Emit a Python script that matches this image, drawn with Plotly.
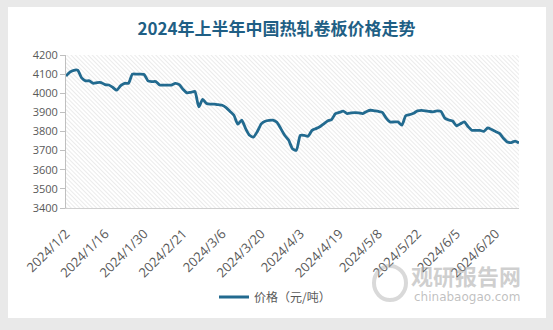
import base64
import plotly.graph_objects as go

# ---- data (trading days, H1 2024) ----
jan = ["1/2", "1/3", "1/4", "1/5", "1/8", "1/9", "1/10", "1/11", "1/12", "1/15", "1/16",
       "1/17", "1/18", "1/19", "1/22", "1/23", "1/24", "1/25", "1/26", "1/29", "1/30", "1/31"]
feb = ["2/1", "2/2", "2/5", "2/6", "2/7", "2/8", "2/19", "2/20", "2/21", "2/22", "2/23",
       "2/26", "2/27", "2/28", "2/29"]
mar = ["3/1", "3/4", "3/5", "3/6", "3/7", "3/8", "3/11", "3/12", "3/13", "3/14", "3/15",
       "3/18", "3/19", "3/20", "3/21", "3/22", "3/25", "3/26", "3/27", "3/28", "3/29"]
apr = ["4/1", "4/2", "4/3", "4/8", "4/9", "4/10", "4/11", "4/12", "4/15", "4/16", "4/17",
       "4/18", "4/19", "4/22", "4/23", "4/24", "4/25", "4/26", "4/29", "4/30"]
may = ["5/6", "5/7", "5/8", "5/9", "5/10", "5/13", "5/14", "5/15", "5/16", "5/17", "5/20",
       "5/21", "5/22", "5/23", "5/24", "5/27", "5/28", "5/29", "5/30", "5/31"]
jun = ["6/3", "6/4", "6/5", "6/6", "6/7", "6/11", "6/12", "6/13", "6/14", "6/17", "6/18",
       "6/19", "6/20", "6/21", "6/24", "6/25", "6/26", "6/27", "6/28"]
dates = ["2024/" + d for d in jan + feb + mar + apr + may + jun]

prices = [
    4090, 4110, 4120, 4120, 4080, 4065, 4065, 4052, 4056, 4056,
    4045, 4043, 4030, 4016, 4040, 4052, 4052, 4100, 4100, 4100,
    4098, 4065, 4061, 4061, 4043, 4043, 4043, 4043, 4052, 4045,
    4020, 4002, 4005, 4009, 3929, 3968, 3946, 3943, 3943, 3940,
    3937, 3925, 3905, 3885, 3838, 3859, 3815, 3780, 3771, 3800,
    3840, 3854, 3858, 3859, 3848, 3815, 3780, 3755, 3710, 3702,
    3780, 3780, 3775, 3806, 3815, 3825, 3840, 3855, 3862, 3893,
    3900, 3906, 3894, 3897, 3899, 3897, 3894, 3905, 3911, 3908,
    3905, 3900, 3870, 3850, 3850, 3850, 3833, 3882, 3888, 3895,
    3908, 3910, 3908, 3905, 3903, 3908, 3905, 3870, 3860, 3855,
    3830, 3840, 3850, 3825, 3806, 3806, 3806, 3801, 3819, 3810,
    3800, 3790, 3765, 3745, 3742, 3750, 3740,
]
tick_dates = dates[::10]
series_name = "价格（元/吨）"
title_text = "2024年上半年中国热轧卷板价格走势"

# ---- geometry ----
W, H = 553, 330
L, R, T, B = 66, 34, 55, 122
PW, PH = W - L - R, H - T - B


def fx(x):
    return (x - L) / PW


def fy(y):
    return (H - B - y) / PH


LINE = "#226a8f"
TXT = "#595959"

hatch_svg = (
    f"<svg xmlns='http://www.w3.org/2000/svg' width='{PW}' height='{PH}'>"
    "<defs><pattern id='p' width='3' height='3' patternUnits='userSpaceOnUse' "
    "patternTransform='rotate(-45)'>"
    "<line x1='0' y1='0' x2='0' y2='3' stroke='#d2d2d2' stroke-width='0.9'/>"
    "</pattern></defs><rect width='100%' height='100%' fill='url(#p)'/></svg>"
)
hatch_uri = "data:image/svg+xml;base64," + base64.b64encode(hatch_svg.encode()).decode()

fig = go.Figure()
fig.add_trace(go.Scatter(
    x=dates, y=prices, mode="lines", name=series_name,
    line=dict(color=LINE, width=2.8, shape="spline", smoothing=0.6),
))

shapes = []
# grey frame around white card (shadow)
GREY = "#e9e9e9"
for (x0, y0, x1, y1) in [(0, 0, W, 7), (0, 318, W, H), (0, 0, 8, H), (546, 0, W, H)]:
    shapes.append(dict(type="rect", xref="paper", yref="paper",
                       x0=fx(x0), x1=fx(x1), y0=fy(y1), y1=fy(y0),
                       fillcolor=GREY, line=dict(width=0), layer="below"))
# watermark logo ring
shapes.append(dict(type="circle", xref="paper", yref="paper",
                   x0=fx(374), x1=fx(406), y0=fy(300), y1=fy(266),
                   line=dict(color="rgba(170,170,170,0.45)", width=4), layer="above"))

fig.update_layout(
    width=W, height=H,
    margin=dict(l=L, r=R, t=T, b=B, pad=0),
    paper_bgcolor="white", plot_bgcolor="rgba(0,0,0,0)",
    font=dict(family="Noto Sans CJK SC, Noto Sans", color=TXT, size=11),
    title=dict(text="<b>" + title_text + "</b>", x=0.5, xref="container", xanchor="center",
               y=1 - 29.5 / H, yanchor="middle",
               font=dict(family="Noto Sans CJK SC", size=17, color="#1f5f85")),
    showlegend=True,
    legend=dict(orientation="h", x=fx(214), xanchor="left", y=fy(297), yanchor="middle",
                font=dict(size=12, color=TXT, family="Noto Sans CJK SC"),
                bgcolor="rgba(0,0,0,0)", itemwidth=30),
    xaxis=dict(type="category", range=[0, len(dates) - 1], tickmode="array",
               tickvals=tick_dates, ticktext=tick_dates, tickangle=-45,
               showline=True, linecolor="#d0d0d0", linewidth=1, ticks="",
               showgrid=False, zeroline=False, ticklabelstandoff=12,
               tickfont=dict(family="Open Sans", size=13, color=TXT)),
    yaxis=dict(range=[3400, 4200], dtick=100, showline=True, linecolor="#bfbfbf",
               linewidth=1, ticks="outside", ticklen=5, tickcolor="#bfbfbf",
               showgrid=False, zeroline=False,
               tickfont=dict(family="Open Sans", size=11, color=TXT)),
    shapes=shapes,
    images=[dict(source=hatch_uri, xref="paper", yref="paper", x=0, y=1,
                 sizex=1, sizey=1, sizing="stretch", xanchor="left", yanchor="top",
                 layer="below")],
    annotations=[
        dict(text="<b>观研报告网</b>", xref="paper", yref="paper", x=fx(409), y=fy(275),
             xanchor="left", yanchor="middle", showarrow=False,
             font=dict(family="Noto Sans CJK SC", size=22, color="rgba(160,160,160,0.5)")),
        dict(text="chinabaogao.com", xref="paper", yref="paper", x=fx(412), y=fy(297),
             xanchor="left", yanchor="middle", showarrow=False,
             font=dict(family="DejaVu Sans", size=12, color="rgba(150,150,150,0.6)")),
    ],
)

fig.write_html("out.html")
